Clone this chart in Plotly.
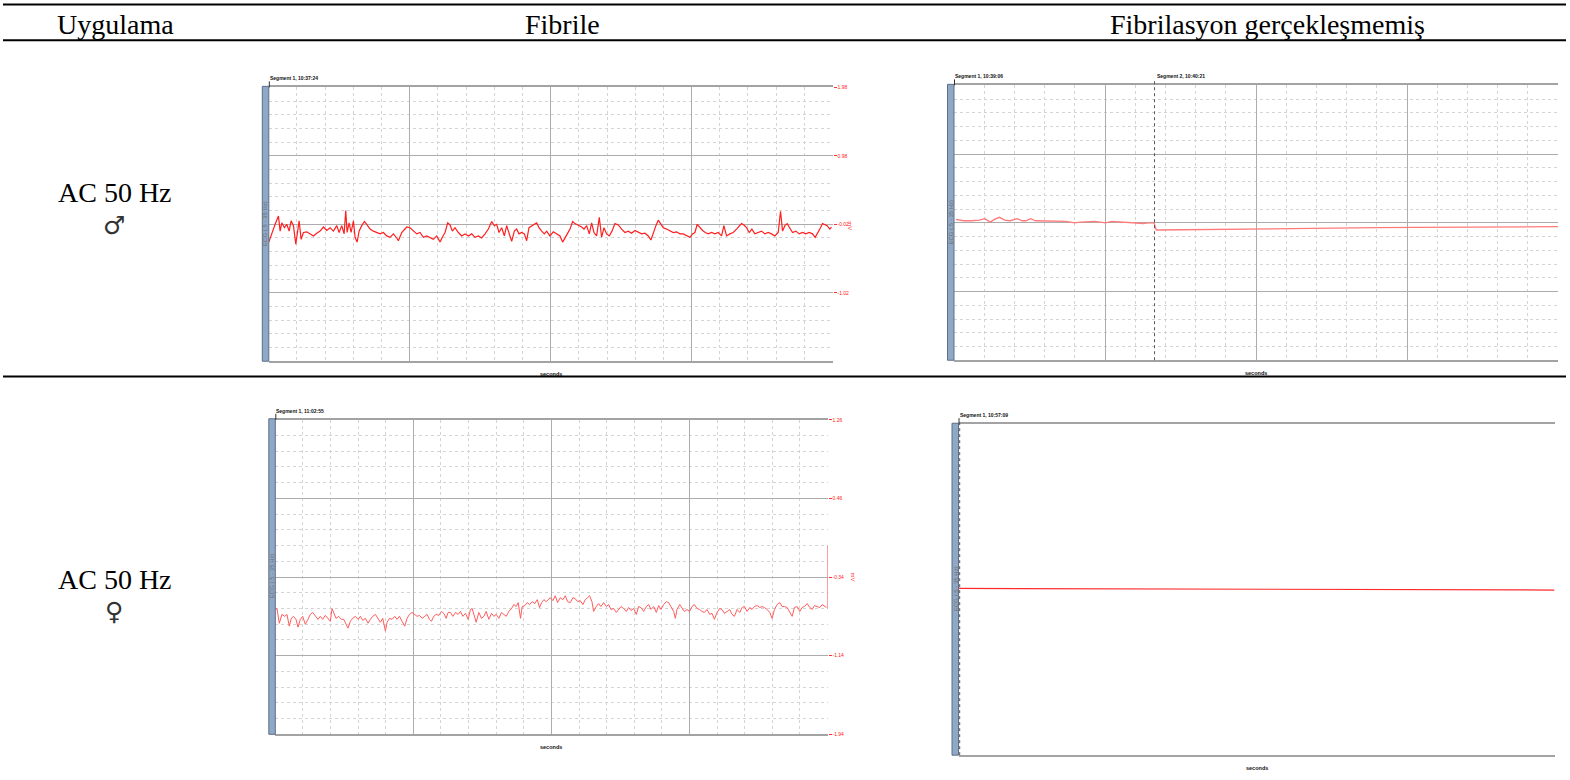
import plotly.graph_objects as go

W, H = 1570, 780

# ---------------- table text ----------------
header_labels = ["Uygulama", "Fibrile", "Fibrilasyon gerçekleşmemiş"]
row_labels = ["AC 50 Hz", "AC 50 Hz"]
row_symbols = ["♂", "♀"]

# ---------------- recorded ECG traces (sample index, mV) ----------------
# Fibrile, male
p1_n = [0, 9, 19, 29, 34, 39, 47, 54, 61, 67, 74, 81, 87, 91, 97, 104, 114, 124, 134, 144,
        154, 164, 174, 184, 194, 204, 211, 219, 226, 231, 235, 241, 247, 254, 259, 265, 271, 279, 287, 294,
        304, 314, 324, 334, 344, 354, 364, 374, 384, 389, 399, 407, 414, 424, 434, 444, 454, 464, 474, 484,
        494, 504, 514, 521, 529, 537, 544, 551, 559, 569, 579, 589, 599, 609, 619, 629, 639, 649, 659, 669,
        677, 684, 691, 699, 707, 714, 721, 729, 737, 744, 751, 759, 767, 774, 781, 789, 797, 804, 811, 819,
        827, 834, 844,
        854, 864, 874, 882, 889, 896, 904, 912, 919, 929, 939, 946, 954, 962, 969, 976, 984, 992, 999, 1006,
        1014, 1022, 1030, 1039, 1049, 1059, 1069, 1079, 1089, 1099, 1109, 1119, 1129, 1139, 1147, 1154, 1162,
        1169, 1176, 1184, 1194, 1204, 1214, 1224, 1234, 1244, 1254, 1264, 1272, 1279, 1286, 1294, 1302, 1310,
        1319, 1329, 1339, 1349, 1359, 1366, 1374, 1384, 1394, 1404, 1412, 1419, 1426, 1434, 1442, 1450, 1459,
        1469, 1479, 1489, 1499, 1509, 1519, 1529, 1536, 1542, 1549, 1556, 1564, 1572, 1582, 1592, 1602, 1612,
        1622, 1632, 1640, 1649, 1656, 1662, 1669, 1676, 1684, 1689]
p1_mv = [-0.28, -0.14, -0.02, 0.10, -0.12, 0.00, -0.07, -0.02, -0.12, 0.03,
         -0.04, -0.31, -0.09, 0.03, -0.24, -0.14, -0.13, -0.16, -0.19, -0.15,
         -0.12, -0.06, -0.11, -0.07, -0.12, -0.04, -0.14, -0.04, -0.16, 0.18,
         -0.14, 0.00, -0.14, 0.03, -0.21, -0.28, -0.12, -0.04, 0.02, -0.02,
         -0.09, -0.12, -0.14, -0.16, -0.14, -0.19, -0.21, -0.16, -0.22, -0.26,
         -0.14, -0.09, -0.06, -0.07, -0.12, -0.16, -0.14, -0.21, -0.19, -0.21,
         -0.24, -0.19, -0.28, -0.21, -0.14, 0.00, -0.03, -0.12, -0.07, -0.14,
         -0.19, -0.16, -0.19, -0.16, -0.21, -0.19, -0.22, -0.16, -0.09, 0.02,
         -0.04, -0.02, -0.14, -0.07, -0.19, -0.04, -0.14, -0.27, -0.12, -0.09,
         -0.16, -0.14, -0.16, -0.26, -0.07, -0.04, -0.02, 0.00, -0.07, -0.12,
         -0.16, -0.12, -0.19,
         -0.13, -0.16, -0.19, -0.28, -0.21, -0.16, -0.09, 0.02, -0.01, -0.03,
         -0.06, -0.09, -0.04, -0.16, 0.00, -0.14, -0.19, 0.08, -0.21, -0.07,
         -0.16, -0.19, -0.12, -0.01, -0.03, -0.09, -0.14, -0.12, -0.15, -0.11,
         -0.14, -0.16, -0.15, -0.19, -0.25, -0.14, -0.04, 0.04, -0.02, -0.07,
         -0.09, -0.12, -0.14, -0.13, -0.16, -0.16, -0.19, -0.21, -0.16, -0.14,
         -0.02, -0.07, -0.11, -0.14, -0.16, -0.14, -0.16, -0.14, -0.19, -0.04,
         -0.19, -0.16, -0.14, -0.09, -0.04, -0.01, -0.03, -0.07, -0.14, -0.09,
         -0.16, -0.14, -0.12, -0.16, -0.14, -0.16, -0.19, -0.14, 0.17, -0.12,
         -0.04, -0.01, -0.07, -0.14, -0.12, -0.16, -0.14, -0.16, -0.14, -0.16,
         -0.21, -0.14, -0.07, -0.01, -0.03, -0.04, -0.09, -0.06]

# No fibrillation, male (two recording segments)
p2_n = [3, 16, 29, 42, 51, 60, 67, 75, 84, 93, 105, 113, 119, 127, 135, 145, 158, 171, 184, 193,
        200, 209, 222, 232, 242, 251, 261, 274, 287, 300, 313, 322, 331,
        335, 377, 442, 506, 571, 635, 700, 764, 829, 893, 958, 1000]
p2_mv = [0.05, 0.03, 0.03, 0.04, 0.06, 0.01, 0.05, 0.08, 0.04, 0.03, 0.06, 0.03, 0.03, 0.06, 0.03,
         0.03, 0.02, 0.02, 0.02, 0.01, 0.00, 0.01, 0.02, 0.02, 0.01, 0.00, 0.02, 0.01, 0.00, 0.00,
         -0.01, 0.00, 0.00,
         -0.105, -0.100, -0.095, -0.086, -0.081, -0.076, -0.071, -0.066, -0.066, -0.062, -0.057, -0.057]
p2_segment2_start = 332

# Fibrile, female
p3_n = [0, 5, 12, 20, 28, 35, 42, 48, 55, 62, 68, 75, 82, 90, 98, 105, 112, 120, 128, 135,
        142, 150, 158, 165, 170, 175, 182, 190, 198, 205, 212, 218, 225, 232, 240, 248, 255, 262, 270, 278,
        285, 292, 300, 308, 315, 322, 330, 335, 342, 350, 358, 365, 372, 380, 388, 395, 402, 410, 418, 425,
        432, 440, 448, 455, 462, 468, 475, 482, 490, 498, 505, 512, 518, 525, 532, 540, 548, 555, 562, 570,
        578, 585, 590, 595, 602, 610, 618, 625, 632, 640, 648, 655, 662, 670, 678, 685, 692, 700, 708, 715,
        722, 728, 735, 740, 748, 755, 762, 770, 778, 785, 792, 798, 805, 812, 820,
        824, 832, 839, 846, 854, 862, 869, 876, 884, 892, 899, 906, 914, 922, 929, 936, 942, 949, 954, 962,
        969, 976, 984, 992, 999, 1006, 1014, 1022, 1029, 1036, 1044, 1052, 1059, 1066, 1074, 1082, 1089, 1096,
        1104, 1112, 1119, 1126, 1134, 1142, 1149, 1156, 1164, 1172, 1179, 1186, 1194, 1199, 1204, 1212, 1219,
        1226, 1234, 1242, 1249, 1256, 1264, 1272, 1279, 1286, 1294, 1302, 1309, 1316, 1324, 1332, 1339, 1346,
        1354, 1362, 1369, 1376, 1384, 1392, 1399, 1406, 1414, 1422, 1429, 1436, 1444, 1452, 1459, 1466, 1474,
        1482, 1489, 1496, 1504, 1512, 1519, 1526, 1534, 1542, 1549, 1556, 1564, 1572, 1579, 1586, 1594, 1602,
        1609, 1616, 1624, 1632, 1639, 1646, 1652]
p3_mv = [-0.67, -0.66, -0.81, -0.72, -0.74, -0.72, -0.84, -0.76, -0.74, -0.77,
         -0.85, -0.77, -0.74, -0.82, -0.77, -0.72, -0.70, -0.74, -0.77, -0.74,
         -0.77, -0.73, -0.76, -0.79, -0.66, -0.70, -0.76, -0.74, -0.77, -0.77,
         -0.82, -0.86, -0.79, -0.76, -0.74, -0.77, -0.74, -0.78, -0.76, -0.81,
         -0.77, -0.74, -0.72, -0.77, -0.80, -0.76, -0.89, -0.80, -0.76, -0.77,
         -0.74, -0.77, -0.74, -0.79, -0.84, -0.76, -0.72, -0.70, -0.72, -0.74,
         -0.73, -0.76, -0.74, -0.72, -0.77, -0.79, -0.74, -0.72, -0.73, -0.69,
         -0.71, -0.76, -0.70, -0.70, -0.74, -0.70, -0.72, -0.69, -0.74, -0.71,
         -0.77, -0.67, -0.66, -0.72, -0.80, -0.70, -0.76, -0.74, -0.69, -0.77,
         -0.71, -0.74, -0.72, -0.76, -0.70, -0.72, -0.74, -0.69, -0.66, -0.62,
         -0.64, -0.60, -0.76, -0.64, -0.63, -0.60, -0.62, -0.59, -0.61, -0.57,
         -0.65, -0.60, -0.57, -0.59, -0.56,
         -0.55, -0.58, -0.53, -0.60, -0.55, -0.57, -0.53, -0.59, -0.60, -0.55,
         -0.56, -0.59, -0.58, -0.62, -0.57, -0.55, -0.53, -0.59, -0.69, -0.64,
         -0.61, -0.64, -0.60, -0.64, -0.62, -0.67, -0.66, -0.70, -0.67, -0.64,
         -0.66, -0.69, -0.65, -0.68, -0.66, -0.72, -0.64, -0.65, -0.69, -0.64,
         -0.62, -0.67, -0.64, -0.70, -0.63, -0.67, -0.62, -0.59, -0.60, -0.65,
         -0.69, -0.76, -0.67, -0.62, -0.66, -0.69, -0.67, -0.69, -0.64, -0.62,
         -0.66, -0.67, -0.69, -0.70, -0.67, -0.72, -0.71, -0.77, -0.70, -0.66,
         -0.67, -0.71, -0.69, -0.67, -0.72, -0.74, -0.67, -0.70, -0.65, -0.64,
         -0.69, -0.65, -0.67, -0.64, -0.63, -0.65, -0.64, -0.65, -0.67, -0.70,
         -0.76, -0.67, -0.62, -0.60, -0.64, -0.64, -0.65, -0.70, -0.74, -0.65,
         -0.64, -0.69, -0.65, -0.64, -0.61, -0.65, -0.67, -0.63, -0.64, -0.65,
         -0.62, -0.64, -0.65]

# No fibrillation, female
p4_n = [0, 150, 300, 450, 600, 750, 900, 1000]
p4_mv = [0.008, 0.007, 0.006, 0.005, 0.003, 0.002, 0.000, -0.002]

# right-hand amplitude labels (mV)
p1_labels = [1.98, 0.98, -0.02, -1.02]
p3_labels = [1.26, 0.46, -0.34, -1.14, -1.94]
p3_cal_bar = (-0.02, -0.66)

# segment headers
seg_titles = {
    1: [("Segment 1, 10:37:24", None)],
    2: [("Segment 1, 10:39:06", None), ("Segment 2, 10:40:21", p2_segment2_start)],
    3: [("Segment 1, 11:02:55", None)],
    4: [("Segment 1, 10:57:09", None)],
}

# ---------------- styling ----------------
SERIF = "Liberation Serif, Times New Roman, serif"
SMALL = "Liberation Sans Narrow, Arial Narrow, Liberation Sans, Arial, sans-serif"
BORDER = "#a3a3a3"
MAJOR = "#acacac"
MINOR = "#d4d4d4"
BAR_FILL = "#8fa8c6"
BAR_LINE = "#5d6f88"


def fx(px):
    return px / W


def fy(py):
    return 1 - py / H


def note(text, x, y, size, color="#000", family=SMALL, xanchor="center", angle=0, xref="paper"):
    return dict(text=text, x=x, y=y, xref=xref, yref="paper", xanchor=xanchor, yanchor="middle",
                showarrow=False, textangle=angle, font=dict(family=family, size=size, color=color))


panels = [
    dict(box=(268.8, 832.5, 85, 361), n_total=1692, x=p1_n, y=p1_mv, yr=(-2.02, 1.98),
         ymaj=p1_labels, ystep=0.2, labels=True, grid=True, color="#ff1f1f", width=1.2),
    dict(box=(954, 1558, 83, 360), n_total=1000, x=p2_n, y=p2_mv, yr=(-2.0, 2.0),
         ymaj=[1, 0, -1], ystep=0.2, labels=False, grid=True, color="#ff7a7a", width=1.3),
    dict(box=(275.3, 827.5, 420, 737), n_total=1655, x=p3_n, y=p3_mv, yr=(-1.94, 1.26),
         ymaj=p3_labels, ystep=0.16, labels=True, grid=True, color="#ff5c5c", width=1.0),
    dict(box=(958.5, 1554.5, 424.5, 758), n_total=1000, x=p4_n, y=p4_mv, yr=(-1.0, 1.0),
         ymaj=[], ystep=None, labels=False, grid=False, color="#ff2a2a", width=1.2),
]

fig = go.Figure()
shapes = []
annotations = []

for i, p in enumerate(panels, start=1):
    sfx = "" if i == 1 else str(i)
    l, r, t, b = p["box"]
    N = p["n_total"]
    y0, y1 = p["yr"]

    fig.add_trace(go.Scatter(
        x=p["x"], y=p["y"], mode="lines",
        line=dict(color=p["color"], width=p["width"]),
        xaxis="x" + sfx, yaxis="y" + sfx, hoverinfo="skip", showlegend=False,
    ))

    xa = dict(domain=[fx(l), fx(r)], range=[0, N], anchor="y" + sfx,
              showticklabels=False, ticks="", zeroline=False,
              showline=True, mirror=True, linecolor=BORDER, linewidth=2)
    ya = dict(domain=[fy(b), fy(t)], range=[y0, y1], anchor="x" + sfx,
              zeroline=False, showline=False, side="right")
    if p["grid"]:
        xa.update(tickmode="array", tickvals=[N * k / 4 for k in (1, 2, 3)],
                  showgrid=True, gridcolor=MAJOR, gridwidth=1,
                  minor=dict(tickmode="array",
                             tickvals=[N * k / 20 for k in range(1, 20) if k % 5],
                             showgrid=True, gridcolor=MINOR, griddash="dot", ticks=""))
        nminor = int(round((y1 - y0) / p["ystep"]))
        ya.update(tickmode="array", tickvals=p["ymaj"],
                  showgrid=True, gridcolor=MAJOR, gridwidth=1,
                  minor=dict(tickmode="array",
                             tickvals=[round(y0 + k * p["ystep"], 3) for k in range(1, nminor)],
                             showgrid=True, gridcolor=MINOR, griddash="dot", ticks=""))
    else:
        xa.update(showgrid=False)
        ya.update(showgrid=False, tickvals=[])
    if p["labels"]:
        ya.update(showticklabels=True, ticktext=[f"{v:.2f}" for v in p["ymaj"]],
                  ticks="outside", ticklen=3, tickcolor="#ff3030", tickwidth=1,
                  tickfont=dict(family=SMALL, size=5, color="#ff2020"))
    else:
        ya.update(showticklabels=False, ticks="")

    fig.update_layout({"xaxis" + sfx: xa, "yaxis" + sfx: ya})

    # channel bar on the left edge
    shapes.append(dict(type="rect", xref="paper", yref="paper",
                       x0=fx(l - 6.5), x1=fx(l), y0=fy(b), y1=fy(t - 1),
                       fillcolor=BAR_FILL, line=dict(color=BAR_LINE, width=1), layer="above"))
    annotations.append(note("ECG (.5 - 35 Hz)", fx(l - 3.2), fy((t + b) / 2 - 1), 6,
                            color="#6e6e6e", angle=-90))

    # segment headers with their start markers
    for title, start in seg_titles[i]:
        if start is None:
            annotations.append(note(f"<b>{title}</b>", fx(l - 1), fy(t - 9), 5,
                                    color="#111", xanchor="left"))
            shapes.append(dict(type="line", xref="paper", yref="paper",
                               x0=fx(l + 0.5), x1=fx(l + 0.5), y0=fy(t), y1=fy(t - 6),
                               line=dict(color="#333", width=1)))
        else:
            annotations.append(note(f"<b>{title}</b>", start, fy(t - 9), 5,
                                    color="#111", xanchor="left", xref="x" + sfx))
            shapes.append(dict(type="line", xref="x" + sfx, yref="paper",
                               x0=start, x1=start, y0=fy(b), y1=fy(t - 6),
                               line=dict(color="#555", width=1, dash="dot")))

    # time axis caption
    annotations.append(note("<b>seconds</b>", fx((l + r) / 2), fy(b + 13), 5.5, color="#111"))

# amplitude unit captions
annotations.append(note("mV", fx(850), fy(224), 6, color="#ff3030", angle=90))
annotations.append(note("mV", fx(853), fy(578), 6, color="#ff3030", angle=90))

# calibration bar at the right end of the female fibrile trace
shapes.append(dict(type="line", xref="x3", yref="y3", x0=panels[2]["n_total"], x1=panels[2]["n_total"],
                   y0=p3_cal_bar[0], y1=p3_cal_bar[1], line=dict(color="#ff4040", width=1)))

# dotted segment marker at the start of the last recording
shapes.append(dict(type="line", xref="x4", yref="paper", x0=2, x1=2,
                   y0=fy(758), y1=fy(419), line=dict(color="#555", width=1, dash="dot")))

# ---------------- table rules and text ----------------
for yy in (1.5, 37.5, 376.5):
    shapes.append(dict(type="line", xref="paper", yref="paper", x0=fx(3), x1=fx(1566),
                       y0=fy(yy), y1=fy(yy), line=dict(color="#000", width=2)))

for label, cx in zip(header_labels, (115, 562, 1267)):
    annotations.append(note(label, fx(cx), fy(22), 28, family=SERIF))

for label, sym, cy, sy in zip(row_labels, row_symbols, (191, 581), (224, 613)):
    annotations.append(note(label, fx(115), fy(cy), 28, family=SERIF))
    annotations.append(note(sym, fx(114), fy(sy), 25, color="#333", family="DejaVu Sans, sans-serif"))

fig.update_layout(
    width=W, height=H,
    margin=dict(l=0, r=0, t=0, b=0),
    paper_bgcolor="white", plot_bgcolor="white",
    showlegend=False,
    shapes=shapes,
    annotations=annotations,
)

fig.write_html("out.html")
